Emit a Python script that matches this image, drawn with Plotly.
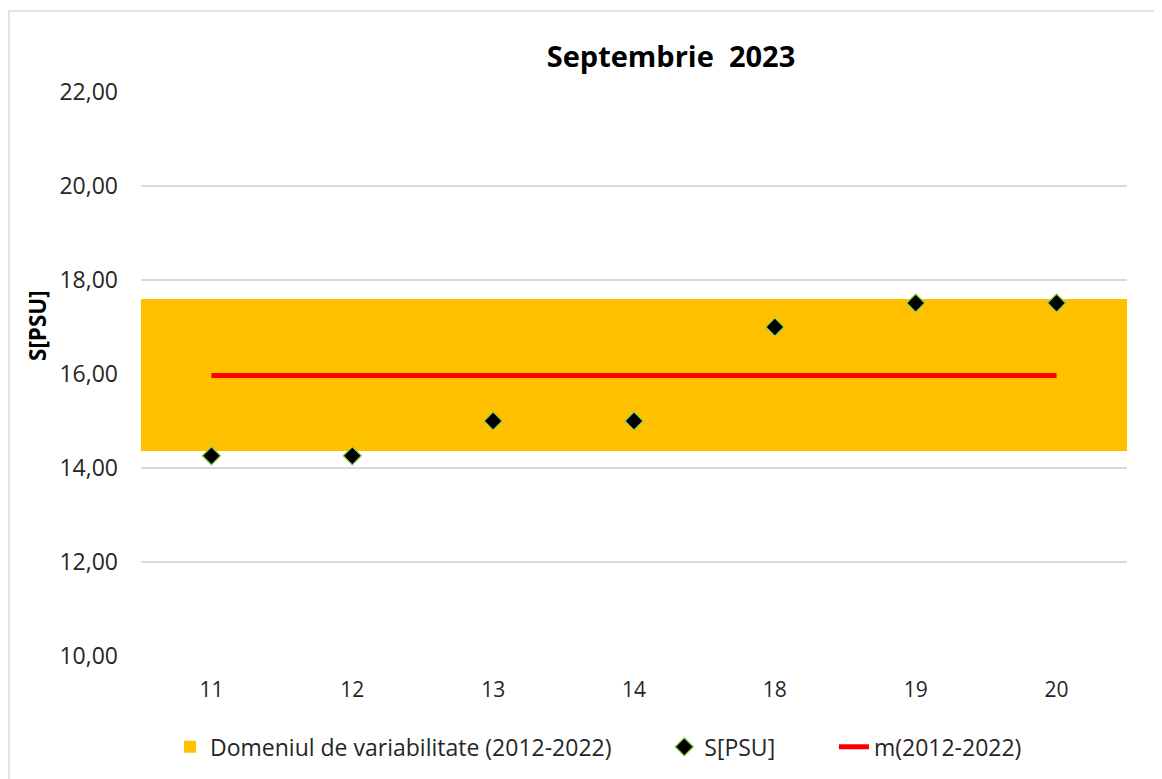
import plotly.graph_objects as go

categories = ["11", "12", "13", "14", "18", "19", "20"]
s_psu = [14.26, 14.26, 15.0, 15.0, 17.0, 17.51, 17.51]
band_low = [14.37] * 7
band_high = [17.59] * 7
mean_2012_2022 = [15.97] * 7
y_ticks = [10, 12, 14, 16, 18, 20, 22]
y_tick_labels = ["10,00", "12,00", "14,00", "16,00", "18,00", "20,00", "22,00"]

FONT = "Open Sans"
PAD1 = "\u00a0" * 8
PAD2 = "\u00a0" * 9

fig = go.Figure()
fig.add_trace(go.Bar(
    x=categories, y=[h - l for h, l in zip(band_high, band_low)], base=band_low,
    width=1.0, marker=dict(color="#FFC000", line=dict(width=0)),
    name="Domeniul de variabilitate (2012-2022)" + PAD1, legendrank=1,
))
fig.add_trace(go.Scatter(
    x=categories, y=mean_2012_2022, mode="lines",
    line=dict(color="#FF0000", width=5),
    name="m(2012-2022)", legendrank=3,
))
fig.add_trace(go.Scatter(
    x=categories, y=s_psu, mode="markers",
    marker=dict(symbol="diamond", size=14, color="black",
                line=dict(color="#92D050", width=1.3)),
    name="S[PSU]" + PAD2, legendrank=2,
))

fig.update_layout(
    width=1162, height=779,
    margin=dict(l=133, r=43, t=84, b=131),
    paper_bgcolor="white", plot_bgcolor="white",
    font=dict(family=FONT, size=21, color="#262626"),
    title=dict(text="<b>Septembrie  2023</b>", xref="paper", x=0.5375, xanchor="center",
               y=0.937, yanchor="middle",
               font=dict(family=FONT, size=29, color="black")),
    bargap=0,
    showlegend=True,
    legend=dict(orientation="h", xref="paper", x=(170 - 141) / 986, xanchor="left",
                y=-0.123, yanchor="top",
                font=dict(family=FONT, size=23, color="#262626"),
                traceorder="normal"),
    xaxis=dict(type="category", range=[-0.5, 6.5], showgrid=False, zeroline=False,
               showline=False, ticks="", ticklabelstandoff=19,
               tickfont=dict(size=21, color="#262626")),
    yaxis=dict(range=[10, 22], tickvals=y_ticks, ticktext=y_tick_labels,
               showgrid=True, gridcolor="#D9D9D9", gridwidth=1.6, zeroline=False,
               showline=False, ticks="", ticklabelstandoff=22,
               tickfont=dict(size=23, color="#262626")),
    annotations=[dict(text="<b>S[PSU]</b>", xref="paper", yref="paper",
                      x=(37 - 141) / 986, y=(656 - 326) / 564,
                      xanchor="center", yanchor="middle", textangle=-90,
                      showarrow=False,
                      font=dict(family=FONT, size=22.5, color="black"))],
    shapes=[dict(type="rect", xref="paper", yref="paper",
                 x0=(9 - 141) / 986, x1=(1175 - 141) / 986,
                 y0=(656 - 790) / 564, y1=(656 - 11) / 564,
                 line=dict(color="#D9D9D9", width=1.5), fillcolor="rgba(0,0,0,0)",
                 layer="below")],
)

fig.write_html("out.html")
